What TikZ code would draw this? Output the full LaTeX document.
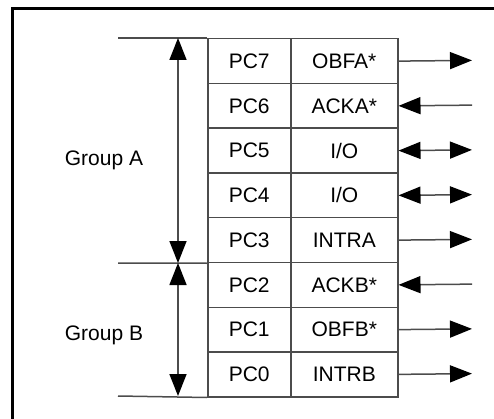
\documentclass[tikz,border=0pt]{standalone}
\usepackage{fontspec}
\setmainfont{Liberation Sans}
\usetikzlibrary{arrows.meta}
\definecolor{linegray}{gray}{0.3}

\begin{document}
\begin{tikzpicture}[x=1pt, y=-1pt,
    every node/.style={font=\fontsize{21}{25}\selectfont},
    cell/.style={draw=linegray, line width=1.5pt, minimum height=44.75pt, inner sep=0pt, anchor=north west},
    pin/.style={cell, minimum width=83pt},
    func/.style={cell, minimum width=107pt},
    sig/.style={draw=linegray, line width=1.5pt},
    >={Triangle[length=22pt, width=17pt, color=black]}]
    \useasboundingbox (0,0) rectangle (494,419);

    % frame (top and left only)
    \draw[line width=3pt] (12,419) -- (12,9) -- (494,9);

    % port C table
    \foreach \i/\name in {7/OBFA*,6/ACKA*,5/{I/O},4/{I/O},3/INTRA,2/ACKB*,1/OBFB*,0/INTRB}{
        \node[pin] (p\i) at (207, {38+44.75*(7-\i)}) {PC\i};
        \node[func] (f\i) at (290, {38+44.75*(7-\i)}) {\name};
        \coordinate (o\i) at (472, {38+44.75*(7.5-\i)});
    }

    % signal directions
    \draw[sig, ->] (f7.east) -- (o7);
    \draw[sig, <-] (f6.east) -- (o6);
    \draw[sig, <->] (f5.east) -- (o5);
    \draw[sig, <->] (f4.east) -- (o4);
    \draw[sig, ->] (f3.east) -- (o3);
    \draw[sig, <-] (f2.east) -- (o2);
    \draw[sig, ->] (f1.east) -- (o1);
    \draw[sig, ->] (f0.east) -- (o0);

    % groups
    \coordinate (ltop) at (118,38);
    \coordinate (lmid) at (118,263);
    \coordinate (lbot) at (118,396);
    \coordinate (atop) at (178,38);
    \coordinate (amid) at (178,263);
    \coordinate (abot) at (178,396);
    \draw[sig] (ltop) -- (p7.north west);
    \draw[sig] (lmid) -- (p3.south west);
    \draw[sig] (lbot) -- (p0.south west);
    \draw[sig, <->] (atop) -- (amid);
    \draw[sig, <->] (amid) -- (abot);

    \node (grpa) at (104,160) {Group A};
    \node (grpb) at (104,335) {Group B};
\end{tikzpicture}
\end{document}
